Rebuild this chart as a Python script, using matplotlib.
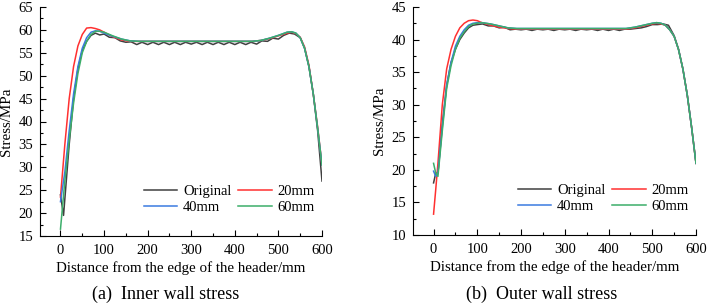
import matplotlib
matplotlib.use('Agg')
import matplotlib.pyplot as plt
from matplotlib.ticker import MultipleLocator

plt.rcParams['font.family'] = ['Liberation Serif', 'DejaVu Serif']

# ---- (a) inner wall stress ----
inner_orig_x = [0, 7, 20, 30, 40, 50, 60, 70, 80, 90, 100, 112, 125, 137, 150,
                162, 175, 187, 200, 212, 225, 237, 250, 262, 275, 287, 300, 312,
                325, 337, 350, 362, 375, 387, 400, 412, 425, 437, 450, 462, 475,
                487, 500, 512, 525, 537, 550, 560, 570, 580, 590, 600]
inner_orig_y = [24.0, 19.5, 35.0, 45.0, 51.5, 55.5, 57.5, 58.8, 59.3, 58.9, 59.1, 58.4, 58.3, 57.6, 57.3,
                57.4, 56.8, 57.3, 56.8, 57.3, 56.8, 57.3, 56.8, 57.3, 56.8, 57.3, 56.9, 57.3,
                56.8, 57.3, 56.8, 57.3, 56.8, 57.3, 56.8, 57.3, 56.8, 57.3, 56.9, 57.6, 57.5,
                58.2, 58.0, 58.8, 59.3, 59.1, 58.3, 56.0, 52.0, 46.0, 38.0, 27.0]

inner_x = [0, 10, 20, 30, 40, 50, 60, 70, 80, 90, 100, 120, 140, 160, 180, 200,
           250, 300, 350, 400, 440, 460, 480, 500, 520, 530, 540, 550, 560, 570,
           580, 590, 600]
inner_20 = [23.5, 35.0, 45.0, 52.0, 56.5, 59.0, 60.4, 60.5, 60.3, 60.0, 59.5, 58.5, 57.8, 57.5, 57.5, 57.5,
            57.5, 57.5, 57.5, 57.5, 57.5, 57.7, 58.1, 58.7, 59.3, 59.5, 59.2, 58.4, 56.3, 52.3,
            46.0, 38.8, 30.5]
inner_40 = [22.5, 29.0, 38.0, 46.0, 52.0, 56.0, 58.3, 59.5, 59.8, 59.7, 59.3, 58.6, 58.0, 57.6, 57.5, 57.5,
            57.5, 57.5, 57.5, 57.5, 57.5, 57.7, 58.2, 58.8, 59.5, 59.6, 59.3, 58.3, 56.0, 52.0,
            46.0, 38.5, 30.5]
inner_60 = [16.5, 27.0, 36.0, 44.0, 50.5, 55.0, 57.5, 59.0, 59.7, 59.7, 59.5, 58.7, 58.0, 57.6, 57.5, 57.5,
            57.5, 57.5, 57.5, 57.5, 57.5, 57.7, 58.2, 58.8, 59.5, 59.6, 59.3, 58.3, 56.0, 52.0,
            46.0, 38.5, 30.5]

# ---- (b) outer wall stress ----
outer_orig_x = [0, 5, 10, 20, 30, 40, 50, 60, 70, 80, 90, 100, 112, 125, 137, 150,
                162, 175, 187, 200, 212, 225, 237, 250, 262, 275, 287, 300, 312,
                325, 337, 350, 362, 375, 387, 400, 412, 425, 437, 450, 462, 475,
                487, 500, 512, 525, 537, 550, 560, 570, 580, 590, 600]
outer_orig_y = [18.0, 19.5, 19.5, 27.0, 33.0, 36.5, 38.5, 40.0, 41.0, 41.8, 42.2, 42.3, 42.4, 42.1, 42.1, 41.8,
                41.9, 41.5, 41.6, 41.5, 41.6, 41.4, 41.6, 41.5, 41.6, 41.4, 41.6, 41.5, 41.6,
                41.4, 41.6, 41.5, 41.6, 41.4, 41.6, 41.4, 41.6, 41.4, 41.6, 41.6, 41.7, 41.8,
                42.0, 42.3, 42.3, 42.4, 42.2, 40.6, 38.5, 35.5, 31.5, 26.5, 21.0]

outer_x = [0, 5, 10, 20, 30, 40, 50, 60, 70, 80, 90, 100, 110, 130, 150, 170, 190,
           220, 300, 400, 440, 460, 480, 500, 510, 520, 530, 540, 550, 560, 570,
           580, 590, 600]
outer_20 = [13.2, 17.0, 21.0, 30.0, 35.5, 38.5, 40.5, 41.8, 42.5, 42.9, 43.0, 42.9, 42.6, 42.2, 41.9, 41.7, 41.6,
            41.6, 41.6, 41.6, 41.6, 41.8, 42.1, 42.4, 42.5, 42.4, 42.2, 41.5, 40.5, 38.5, 35.5,
            31.5, 26.5, 21.0]
outer_40 = [19.8, 19.0, 19.5, 26.5, 33.0, 36.5, 39.0, 40.5, 41.5, 42.2, 42.5, 42.6, 42.6, 42.4, 42.1, 41.8, 41.7,
            41.7, 41.7, 41.7, 41.7, 41.9, 42.2, 42.5, 42.6, 42.5, 42.2, 41.5, 40.5, 38.5, 35.5,
            31.5, 26.5, 21.0]
outer_60 = [21.0, 19.5, 19.0, 26.0, 32.5, 36.0, 38.5, 40.2, 41.2, 42.0, 42.4, 42.5, 42.6, 42.4, 42.1, 41.8, 41.7,
            41.7, 41.7, 41.7, 41.7, 41.9, 42.2, 42.5, 42.6, 42.5, 42.2, 41.5, 40.5, 38.5, 35.5,
            31.5, 26.5, 21.0]

labels = ['Original', '20mm', '40mm', '60mm']
colors = ['#404040', '#ff3030', '#3b7ae0', '#3cae6a']
captions = ['(a)  Inner wall stress', '(b)  Outer wall stress']

fig = plt.figure(figsize=(7.08, 3.07), dpi=100)
W, H = 708, 307


def make_axes(left, right, top, bottom):
    return fig.add_axes([left / W, 1 - bottom / H, (right - left) / W, (bottom - top) / H])


ax1 = make_axes(40, 322, 7, 236)
ax2 = make_axes(413, 696, 7, 235)

panels = [
    (ax1, inner_orig_x, inner_orig_y, inner_x, [inner_20, inner_40, inner_60], (15, 65)),
    (ax2, outer_orig_x, outer_orig_y, outer_x, [outer_20, outer_40, outer_60], (10, 45)),
]

for ax, ox, oy, sx, series, ylim in panels:
    lines = [ax.plot(ox, oy, color=colors[0], lw=1.1, label=labels[0])[0]]
    for ys, c, lab in zip(series, colors[1:], labels[1:]):
        lines.append(ax.plot(sx, ys, color=c, lw=1.1, label=lab)[0])
    ax.set_xlim(-47, 600)
    ax.set_ylim(*ylim)
    ax.xaxis.set_major_locator(MultipleLocator(100))
    ax.xaxis.set_minor_locator(MultipleLocator(50))
    ax.yaxis.set_major_locator(MultipleLocator(5))
    ax.yaxis.set_minor_locator(MultipleLocator(2.5))
    ax.tick_params(which='both', direction='in', labelsize=10.5, width=0.8)
    ax.tick_params(axis='x', pad=6)
    ax.tick_params(axis='y', pad=5)
    ax.tick_params(which='major', length=4)
    ax.tick_params(which='minor', length=2)
    for side in ('top', 'right'):
        ax.spines[side].set_visible(False)
    for side in ('left', 'bottom'):
        ax.spines[side].set_linewidth(0.8)
    ax.set_xlabel('Distance from the edge of the header/mm', fontsize=10.8, labelpad=3)
    ax.set_ylabel('Stress/MPa', fontsize=10.8, labelpad=4)
    # legend filled row by row: Original, 20mm / 40mm, 60mm
    order = [0, 2, 1, 3]
    ax.legend([lines[i] for i in order], [labels[i] for i in order],
              ncol=2, frameon=False, fontsize=10.5, handlelength=2.3,
              columnspacing=0.45, handletextpad=0.4, labelspacing=0.2,
              borderaxespad=0.1, loc='lower right', bbox_to_anchor=(1.0, 0.065))

fig.text(166 / W, 1 - 294 / H, captions[0], ha='center', va='center', fontsize=13)
fig.text(542 / W, 1 - 294 / H, captions[1], ha='center', va='center', fontsize=13)

fig.savefig('out.png', dpi=100)
